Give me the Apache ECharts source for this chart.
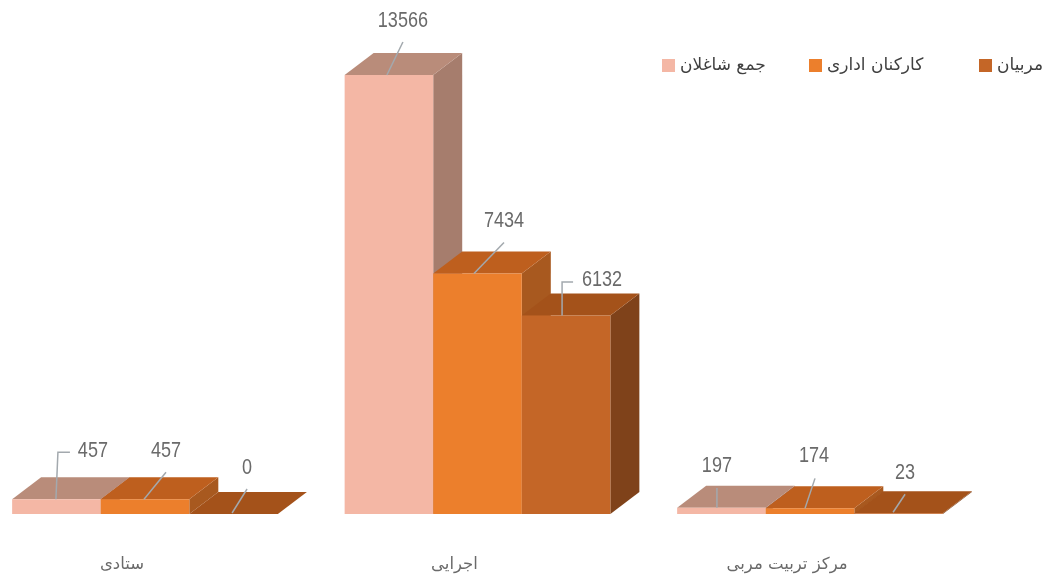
<!DOCTYPE html>
<html>
<head>
<meta charset="utf-8">
<style>html,body{margin:0;padding:0;background:#fff}#c{width:1044px;height:576px}</style>
<script src="https://cdn.jsdelivr.net/npm/echarts@6/dist/echarts.min.js"></script>
</head>
<body>
<div id="c"></div>
<script>
var categories = ['ستادی', 'اجرایی', 'مرکز تربیت مربی'];
var seriesNames = ['جمع شاغلان', 'کارکنان اداری', 'مربیان'];
var totalStaff = [457, 13566, 197];
var adminStaff = [457, 7434, 174];
var trainers = [0, 6132, 23];

// Face colours per series
var frontColors = ['#F4B7A5', '#EC7F2C', '#C46627'];
var topColors = ['#B98C7A', '#BE5F1E', '#A4521A'];
var sideColors = ['#A67D6D', '#A8591F', '#7F421A'];

// Leader layout relative to the top centre of each bar's front face, [series][category]:
// p = leader polyline points, t = label centre
var labelLayouts = [
  [{p: [[-0.5, 0], [1.5, -47], [13.5, -47]], t: [36.5, -48]},
   {p: [[-2, 0], [14, -33]], t: [14, -54]},
   {p: [[-4.5, 0], [-4.5, -19.6]], t: [-4.5, -41.6]}],
  [{p: [[-1, 0], [21, -27]], t: [21, -48]},
   {p: [[-3.5, 0], [26.5, -31]], t: [26.5, -52]},
   {p: [[-5, 0], [5, -30]], t: [4, -52]}],
  [{p: [[-1.5, -1], [13.5, -25]], t: [13.5, -46]},
   {p: [[-4, 0], [-4, -33.6], [7, -33.6]], t: [36, -35.6]},
   {p: [[-5.5, -1], [6.5, -19]], t: [6.5, -40]}]
];

var DEPTH_X = 29, DEPTH_Y = 22, BAR_RATIO = 0.2664;

function makeRender(si) {
  return function (params, api) {
    var cat = api.value(0), val = api.value(1);
    var base = api.coord([cat, 0]), top = api.coord([cat, val]);
    var w = api.size([1, 0])[0] * BAR_RATIO;
    var x0 = base[0] + (si - 1.5) * w, x1 = x0 + w;
    var yB = base[1], yT = top[1];
    var cx = (x0 + x1) / 2;
    var lay = labelLayouts[si][cat];
    var pts = lay.p.map(function (q) { return [cx + q[0], yT + q[1]]; });
    return {
      type: 'group',
      children: [
        {type: 'polygon', shape: {points: [[x1, yB], [x1 + DEPTH_X, yB - DEPTH_Y], [x1 + DEPTH_X, yT - DEPTH_Y], [x1, yT]]}, style: {fill: sideColors[si]}},
        {type: 'polygon', shape: {points: [[x0, yT], [x1, yT], [x1 + DEPTH_X, yT - DEPTH_Y], [x0 + DEPTH_X, yT - DEPTH_Y]]}, style: {fill: topColors[si]}},
        {type: 'rect', shape: {x: x0, y: yT, width: w, height: yB - yT}, style: {fill: frontColors[si]}},
        {type: 'polyline', z2: 10, shape: {points: pts}, style: {stroke: '#A3A9AE', lineWidth: 1.5, fill: 'none'}},
        {type: 'text', z2: 11, x: cx + lay.t[0], y: yT + lay.t[1], scaleX: 0.82, style: {
          x: 0, y: 0, text: String(val), align: 'center', verticalAlign: 'middle',
          fontFamily: '"Liberation Sans"', fontSize: 22, fill: '#6A6A6A'
        }}
      ]
    };
  };
}

function mkSeries(si, values) {
  return {
    type: 'custom', name: seriesNames[si], coordinateSystem: 'cartesian2d',
    itemStyle: {color: frontColors[si]},
    encode: {x: 0, y: 1},
    data: values.map(function (v, i) { return [i, v]; }),
    renderItem: makeRender(si)
  };
}

function mkLegend(si, left) {
  return {
    left: left, top: 52, data: [seriesNames[si]], icon: 'rect', itemWidth: 13, itemHeight: 13, itemGap: 0,
    selectedMode: false,
    textStyle: {fontFamily: '"DejaVu Sans"', fontSize: 17, color: '#404040'}
  };
}

var chart = echarts.init(document.getElementById('c'), null, {renderer: 'canvas'});
chart.setOption({
  animation: false,
  backgroundColor: '#fff',
  grid: {left: 145, width: 665, top: 28.6, height: 485.4},
  xAxis: {
    type: 'category', data: categories, boundaryGap: false,
    axisLine: {show: false}, axisTick: {show: false},
    axisLabel: {margin: 42, fontFamily: '"DejaVu Sans"', fontSize: 16.5, color: '#6A6A6A', padding: [0, 46, 0, 0], showMinLabel: true, showMaxLabel: true, interval: 0}
  },
  yAxis: {type: 'value', min: 0, max: 15000, show: false},
  legend: [mkLegend(0, 657), mkLegend(1, 804), mkLegend(2, 974)],
  series: [mkSeries(0, totalStaff), mkSeries(1, adminStaff), mkSeries(2, trainers)]
});
</script>
</body>
</html>
